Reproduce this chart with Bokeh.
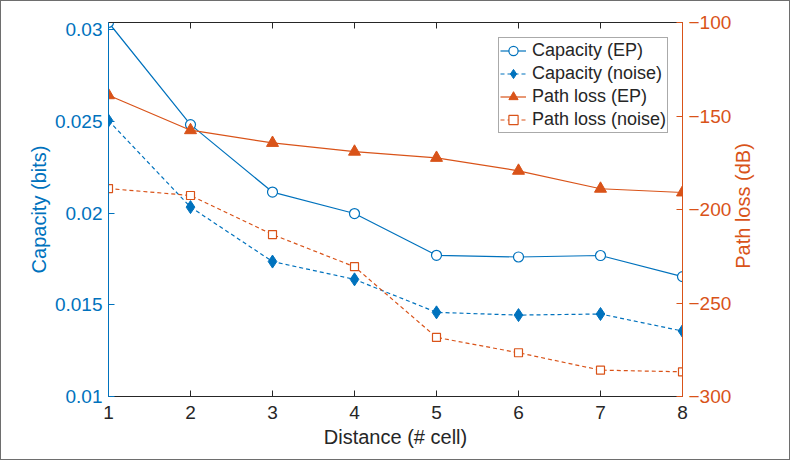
from bokeh.plotting import figure
from bokeh.models import (Range1d, LinearAxis, Legend, LegendItem, FixedTicker,
                          ColumnDataSource, Div)
from bokeh.layouts import row
from bokeh.embed import file_html
from bokeh.resources import INLINE

# ---- data ----
distance = [1, 2, 3, 4, 5, 6, 7, 8]
capacity_ep = [0.0304, 0.02483, 0.02115, 0.01998, 0.0177, 0.01761, 0.01769, 0.01654]
capacity_noise = [0.02505, 0.02033, 0.01736, 0.01639, 0.01459, 0.01444, 0.0145, 0.01357]
pathloss_ep = [-138.9, -157.6, -164.4, -169.1, -172.4, -179.3, -188.9, -190.9]
pathloss_noise = [-188.8, -192.5, -213.4, -230.6, -268.4, -276.6, -285.9, -286.8]
x_ticks = [1, 2, 3, 4, 5, 6, 7, 8]
cap_ticks = [0.01, 0.015, 0.02, 0.025, 0.03]
pl_ticks = [-300, -250, -200, -150, -100]

BLUE = "#0072BD"
ORANGE = "#D95319"
GRAY = "#262626"
FONT = "Liberation Sans"

src = ColumnDataSource(dict(x=distance, ce=capacity_ep, cn=capacity_noise,
                            pe=pathloss_ep, pn=pathloss_noise))

p = figure(frame_width=574, frame_height=374,
           x_range=Range1d(1, 8), y_range=Range1d(0.01, 0.0304),
           output_backend="svg", toolbar_location=None,
           min_border_left=107, min_border_right=50,
           min_border_top=21, min_border_bottom=63,
           background_fill_color="white", border_fill_color="white")
p.outline_line_color = None
p.xgrid.visible = False
p.ygrid.visible = False
p.extra_y_ranges = {"pl": Range1d(-300, -100)}

# axes styling
def style_axis(ax, color):
    ax.axis_line_color = color
    ax.major_tick_line_color = color
    ax.minor_tick_line_color = None
    ax.major_tick_in = 6
    ax.major_tick_out = 0
    ax.major_label_text_color = color
    ax.major_label_text_font = FONT
    ax.major_label_text_font_size = "19px"
    ax.axis_label_text_color = color
    ax.axis_label_text_font = FONT
    ax.axis_label_text_font_size = "20px"
    ax.axis_label_text_font_style = "normal"

xa = p.xaxis[0]
style_axis(xa, GRAY)
xa.ticker = FixedTicker(ticks=x_ticks)
xa.axis_label = "Distance (# cell)"
xa.major_label_standoff = 9
xa.axis_label_standoff = 4

ya = p.yaxis[0]
style_axis(ya, BLUE)
ya.ticker = FixedTicker(ticks=cap_ticks)
ya.axis_label = "Capacity (bits)"
ya.major_label_standoff = 6
ya.axis_label_standoff = 2

# right axis: line, ticks and tick labels
ra = LinearAxis(y_range_name="pl")
style_axis(ra, ORANGE)
ra.ticker = FixedTicker(ticks=pl_ticks)
ra.major_label_standoff = 6
p.add_layout(ra, "right")

ta = LinearAxis()
ta.ticker = FixedTicker(ticks=x_ticks)
ta.axis_line_color = GRAY
ta.major_tick_line_color = GRAY
ta.minor_tick_line_color = None
ta.major_tick_in = 6
ta.major_tick_out = 0
ta.major_label_text_font_size = "1px"
ta.major_label_text_color = None
ta.major_label_standoff = 0
p.add_layout(ta, "above")

LW = 1.2
# Capacity (EP)
l1 = p.line("x", "ce", source=src, line_color=BLUE, line_width=LW)
s1 = p.scatter("x", "ce", source=src, marker="circle", size=10,
               line_color=BLUE, fill_color="white", line_width=1.2)
# Capacity (noise)
l2 = p.line("x", "cn", source=src, line_color=BLUE, line_width=LW, line_dash="4 3")
s2 = p.scatter("x", "cn", source=src, marker="diamond", size=13,
               line_color=BLUE, fill_color=BLUE)
# Path loss (EP)
l3 = p.line("x", "pe", source=src, line_color=ORANGE, line_width=LW, y_range_name="pl")
s3 = p.scatter("x", "pe", source=src, marker="triangle", size=12,
               line_color=ORANGE, fill_color=ORANGE, y_range_name="pl")
# Path loss (noise)
l4 = p.line("x", "pn", source=src, line_color=ORANGE, line_width=LW, line_dash="4 3",
            y_range_name="pl")
s4 = p.scatter("x", "pn", source=src, marker="square", size=8,
               line_color=ORANGE, fill_color="white", line_width=1.2, y_range_name="pl")

legend = Legend(items=[
    LegendItem(label="Capacity (EP)", renderers=[l1, s1]),
    LegendItem(label="Capacity (noise)", renderers=[l2, s2]),
    LegendItem(label="Path loss (EP)", renderers=[l3, s3]),
    LegendItem(label="Path loss (noise)", renderers=[l4, s4]),
], location=(390, 263))
legend.margin = 0
legend.padding = 1
legend.spacing = 0
legend.glyph_width = 26
legend.glyph_height = 23
legend.label_height = 23
legend.label_standoff = 6
legend.label_text_font = FONT
legend.label_text_font_size = "18px"
legend.label_text_color = GRAY
legend.border_line_color = "#555555"
legend.border_line_width = 1
legend.background_fill_color = "white"
legend.background_fill_alpha = 1
p.add_layout(legend, "center")

# right-hand axis title, reading bottom-to-top as in the reference
right_title = Div(
    text=('<div style="position:relative;width:55px;height:458px;">'
          '<span style="position:absolute;left:9px;top:205px;'
          'transform:translate(-50%,-50%) rotate(-90deg);white-space:nowrap;'
          'font-family:\'Liberation Sans\';font-size:20px;line-height:20px;'
          'color:#D95319;">Path loss (dB)</span></div>'),
    width=55, height=458, margin=0,
    styles={"background-color": "white"})

layout = row(p, right_title, spacing=0,
             styles={"border": "1px solid #6e6e6e", "background-color": "white"})

open("out.html", "w").write(file_html(layout, INLINE))
